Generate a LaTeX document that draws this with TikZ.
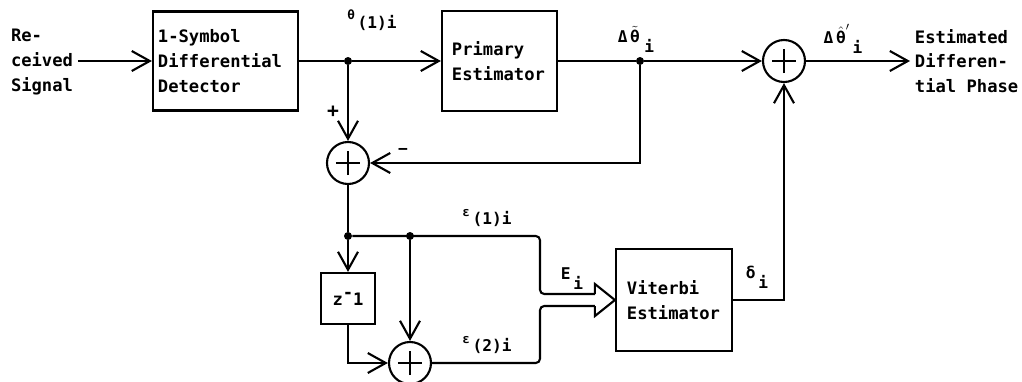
\documentclass[tikz,border=0pt]{standalone}
\usepackage{fontspec}
\usepackage{amsmath}
\usepackage{tikz}
\usetikzlibrary{arrows.meta, positioning, calc}
\newfontfamily\diafont{DejaVu Sans Mono}
\tikzset{
  block/.style={rectangle, draw, line width=1.5pt, align=left,
    font=\diafont\bfseries\fontsize{12.2}{17.6}\selectfont, inner ysep=0pt},
  sumjunc/.style={circle, draw, line width=1.5pt, minimum size=1.05cm, inner sep=0pt,
    path picture={\draw[line width=1.7pt]
      ($(path picture bounding box.center)+(-0.3cm,0)$) -- ++(0.6cm,0)
      ($(path picture bounding box.center)+(0,-0.3cm)$) -- ++(0,0.6cm);}},
  dot/.style={circle, fill, inner sep=0pt, minimum size=0.2cm},
  txt/.style={align=left, font=\diafont\bfseries\fontsize{12.2}{17.6}\selectfont},
  lab/.style={font=\diafont\bfseries\fontsize{11.5}{13}\selectfont, inner sep=1pt},
  arrow/.style={-{Straight Barb[length=0.45cm, width=0.5cm]}, line width=1.5pt},
  line/.style={line width=1.5pt}
}
\begin{document}
\begin{tikzpicture}[x=0.025cm, y=-0.025cm]
  \useasboundingbox (0,0) rectangle (1022,382);
  % Blocks
  \node[block, text width=3.375cm, inner xsep=0.125cm, minimum height=2.475cm] (det) at (225.5,61) {1-Symbol\\Differential\\Detector};
  \node[block, text width=2.375cm, inner xsep=0.25cm, minimum height=2.5cm] (pri) at (499.5,61) {Primary\\Estimator};
  \node[block, text width=2.35cm, inner xsep=0.275cm, minimum height=2.55cm] (vit) at (674,300) {Viterbi\\Estimator};
  \node[block, align=center, minimum width=1.35cm, minimum height=1.275cm, inner xsep=0pt] (dly) at (348,298.5) {z\raisebox{5pt}{-}1};
  % Summing junctions
  \node[sumjunc] (sum1) at (784,61) {};
  \node[sumjunc] (sum2) at (348,163) {};
  \node[sumjunc] (sum3) at (410,363) {};
  % Branch points
  \node[dot] (dotA) at (348,61) {};
  \node[dot] (dotB) at (640,61) {};
  \node[dot] (dotC) at (348,236) {};
  \node[dot] (dotD) at (410,236) {};
  \coordinate (brc) at (540,300);
  % Input / output text
  \node[txt] (sig) at (42,62) {Re-\\ceived\\Signal};
  \node[txt, anchor=west] (out) at (910,61) {Estimated\\Differen-\\tial Phase};
  % Forward path
  \draw[arrow] (sig.east |- det.west) -- (det.west);
  \draw[line] (det.east) -- (dotA);
  \draw[arrow] (dotA) -- (pri.west);
  \draw[line] (pri.east) -- (dotB);
  \draw[arrow] (dotB) -- (sum1.west);
  \draw[arrow] (sum1.east) -- (out.west);
  % Error path
  \draw[arrow] (dotA) -- (sum2.north);
  \draw[arrow] (dotB) |- (sum2.east);
  \draw[line] (sum2.south) -- (dotC);
  \draw[arrow] (dotC) -- (dly.north);
  \draw[arrow] (dotD) -- (sum3.north);
  \draw[arrow] (dly.south) |- (sum3.west);
  % Bundle into Viterbi estimator
  \draw[line, rounded corners=3pt] (dotC) -| ($(brc)+(0,-6)$) -- ($(vit.west)+(-20,-6)$);
  \draw[line, rounded corners=3pt] ($(vit.west)+(-20,6)$) -- ($(brc)+(0,6)$) |- (sum3.east);
  \draw[line, line join=miter] ($(vit.west)+(-20,-6)$) -- ($(vit.west)+(-20,-16)$) -- (vit.west)
    -- ($(vit.west)+(-20,16)$) -- ($(vit.west)+(-20,6)$);
  \draw[arrow] (vit.east) -| (sum1.south);
  % Labels
  \node[lab] (lthA) at (372,20) {\raisebox{6pt}{\small θ}\,(1)i};
  \node[lab] (lthB) at (636,39) {Δ\,$\tilde{\text{θ}}$\;\raisebox{-7pt}{i}};
  \node[lab] (lthC) at (843,39) {Δ\,$\hat{\text{θ}}'$\,\raisebox{-7pt}{i}};
  \node[lab] (leps1) at (487,218) {\raisebox{6pt}{\small ε}\,(1)i};
  \node[lab] (leps2) at (487,345) {\raisebox{6pt}{\small ε}\,(2)i};
  \node[lab] (lE) at (572,279) {E\,\raisebox{-7pt}{i}};
  \node[lab] (ldel) at (757,277) {δ\,\raisebox{-7pt}{i}};
  \node[lab, font=\diafont\bfseries\fontsize{14}{14}\selectfont] (lplus) at (333,112) {+};
  \node[lab] (lminus) at (403,151) {−};
\end{tikzpicture}
\end{document}
